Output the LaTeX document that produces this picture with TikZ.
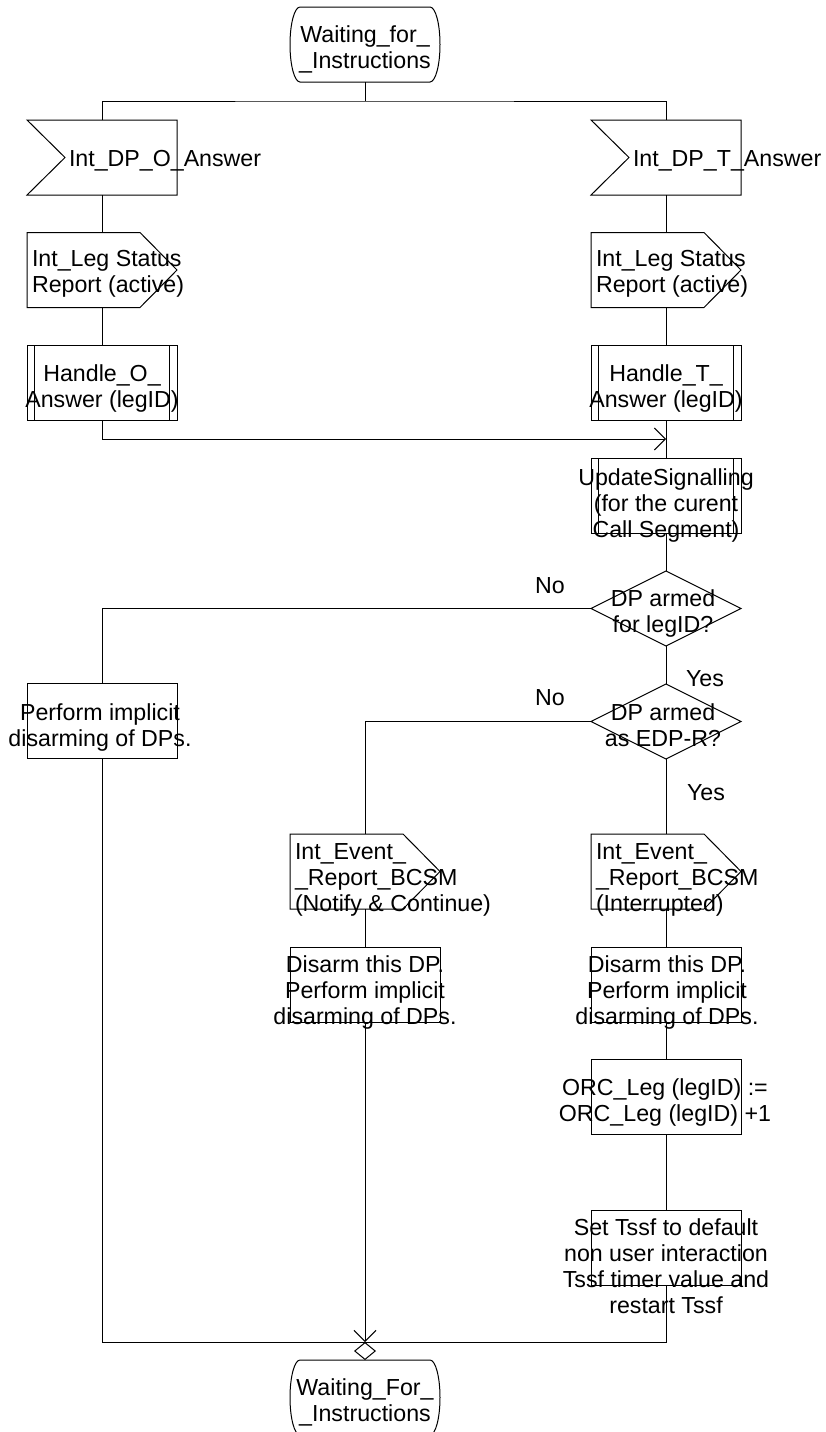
\documentclass[tikz,border=0pt]{standalone}
\usepackage{fontspec}
\setmainfont{Liberation Sans}
\usetikzlibrary{arrows.meta}
\begin{document}
\begin{tikzpicture}[x=1pt,y=-1pt,
  every node/.style={inner sep=0pt, outer sep=0pt},
  line/.style={draw=black, line width=1pt},
  frame/.style={draw=none, minimum width=150pt, minimum height=75pt},
  box/.style={frame, line},
  txt/.style={font=\fontsize{23.2pt}{26pt}\selectfont, align=center, anchor=north},
  ltxt/.style={font=\fontsize{23.2pt}{26pt}\selectfont, align=left, anchor=north west},
  lbl/.style={font=\fontsize{23.2pt}{26pt}\selectfont, anchor=base},
  barb/.style={-{Straight Barb[length=11pt,width=22pt]}},
]
\useasboundingbox (0,0) rectangle (825,1432);

% ---------- frames ----------
\node[frame] (s1)   at (365,44.5) {};
\node[frame] (in1)  at (102,157.5) {};
\node[frame] (in2)  at (666,157.5) {};
\node[frame] (out1) at (102,270) {};
\node[frame] (out2) at (666,270) {};
\node[box]   (p1)   at (102,382.5) {};
\node[box]   (p2)   at (666,382.5) {};
\node[box]   (upd)  at (666,495.5) {};
\node[frame] (d1)   at (666,608.5) {};
\node[box]   (perf) at (102,721) {};
\node[frame] (d2)   at (666,721.5) {};
\node[frame] (oe1)  at (365,871.5) {};
\node[frame] (oe2)  at (666,871.5) {};
\node[box]   (dis1) at (365,984.5) {};
\node[box]   (dis2) at (666,984.5) {};
\node[box]   (orc)  at (666,1097) {};
\node[box]   (tssf) at (666,1247.5) {};
\node[frame] (s2)   at (365,1397.5) {};

% ---------- outlines ----------
\foreach \s in {s1,s2}{
  \draw[line] ([xshift=10pt]\s.north west) -- ([xshift=-10pt]\s.north east)
    arc[start angle=90,end angle=-90,x radius=10pt,y radius=37.5pt]
    -- ([xshift=10pt]\s.south west)
    arc[start angle=270,end angle=90,x radius=10pt,y radius=37.5pt] -- cycle;
}
\foreach \s in {in1,in2}{
  \draw[line] (\s.north west) -- (\s.north east) -- (\s.south east) -- (\s.south west)
    -- ([xshift=38pt]\s.west) -- cycle;
}
\foreach \s in {out1,out2,oe1,oe2}{
  \draw[line] (\s.north west) -- ([xshift=-37pt]\s.north east) -- (\s.east)
    -- ([xshift=-37pt]\s.south east) -- (\s.south west) -- cycle;
}
\foreach \s in {p1,p2,upd}{
  \draw[line] ([xshift=7.5pt]\s.north west) -- ([xshift=7.5pt]\s.south west);
  \draw[line] ([xshift=-7.5pt]\s.north east) -- ([xshift=-7.5pt]\s.south east);
}
\foreach \s in {d1,d2}{
  \draw[line] (\s.north) -- (\s.east) -- (\s.south) -- (\s.west) -- cycle;
}

% ---------- texts ----------
\node[txt] (t-s1) at (365,25.5) {Waiting\_for\_\\\_Instructions};
\node[lbl, anchor=base west] (t-in1) at (69,166) {Int\_DP\_O\_Answer};
\node[lbl, anchor=base west] (t-in2) at (633,166) {Int\_DP\_T\_Answer};
\node[ltxt] (t-out1) at (32,250.5) {Int\_Leg Status\\Report (active)};
\node[ltxt] (t-out2) at (596,250.5) {Int\_Leg Status\\Report (active)};
\node[txt] (t-p1) at (102,364.5) {Handle\_O\_\\Answer (legID)};
\node[txt] (t-p2) at (666,364.5) {Handle\_T\_\\Answer (legID)};
\node[txt] (t-upd) at (666,468.5) {UpdateSignalling\\(for the curent\\Call Segment)};
\node[txt] (t-d1) at (663,589.5) {DP armed\\for legID?};
\node[txt] (t-d2) at (663,703.5) {DP armed\\as EDP-R?};
\node[txt] (t-perf) at (100,703.5) {Perform implicit\\disarming of DPs.};
\node[ltxt] (t-oe1) at (295,843.5) {Int\_Event\_\\\_Report\_BCSM\\(Notify \& Continue)};
\node[ltxt] (t-oe2) at (596,843.5) {Int\_Event\_\\\_Report\_BCSM\\(Interrupted)};
\node[txt] (t-dis1) at (365,955.5) {Disarm this DP.\\Perform implicit\\disarming of DPs.};
\node[txt] (t-dis2) at (667,955.5) {Disarm this DP.\\Perform implicit\\disarming of DPs.};
\node[txt] (t-orc) at (665,1078.5) {ORC\_Leg (legID) :=\\ORC\_Leg (legID) +1};
\node[txt] (t-tssf) at (666,1218.5) {Set Tssf to default\\non user interaction\\Tssf timer value and\\restart Tssf};
\node[txt] (t-s2) at (365,1378.5) {Waiting\_For\_\\\_Instructions};

\node[lbl] (no1) at (550,593.5) {No};
\node[lbl] (yes1) at (705,686.5) {Yes};
\node[lbl] (no2) at (550,705.5) {No};
\node[lbl] (yes2) at (706,800.5) {Yes};

% ---------- junctions ----------
\coordinate (jt) at (365,101);
\coordinate (ja) at (666,439);
\coordinate (jb) at (365,1342);

% ---------- connectors ----------
\draw[line] (s1.south) -- (jt);
\draw[line] (in1.north) |- (jt) -| (in2.north);
\draw[line] (in1.south) -- (out1.north);
\draw[line] (in2.south) -- (out2.north);
\draw[line] (out1.south) -- (p1.north);
\draw[line] (out2.south) -- (p2.north);
\draw[line, barb] (p1.south) |- (ja);
\draw[line] (p2.south) -- (upd.north);
\draw[line] (upd.south) -- (d1.north);
\draw[line] (d1.west) -| (perf.north);
\draw[line] (d1.south) -- (d2.north);
\draw[line] (d2.west) -| (oe1.north);
\draw[line] (d2.south) -- (oe2.north);
\draw[line] (oe1.south) -- (dis1.north);
\draw[line] (oe2.south) -- (dis2.north);
\draw[line] (dis2.south) -- (orc.north);
\draw[line] (orc.south) -- (tssf.north);
\draw[line] (perf.south) |- (jb);
\draw[line] (tssf.south) |- (jb);
\draw[line, barb] (dis1.south) -- (jb);
\draw[line, -{Diamond[open,length=18pt,width=22pt]}] (jb) -- (s2.north);
\end{tikzpicture}
\end{document}
